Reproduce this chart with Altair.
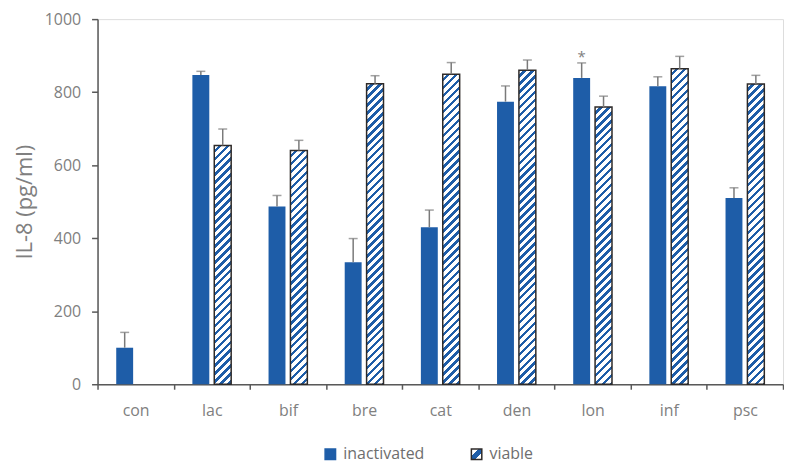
import math
import altair as alt

# ---------------- data ----------------
categories = ["con", "lac", "bif", "bre", "cat", "den", "lon", "inf", "psc"]
inactivated = [100, 847, 487, 334, 430, 774, 839, 816, 510]
inactivated_err = [42, 10, 30, 65, 47, 43, 41, 26, 28]
viable = [None, 654, 640, 823, 849, 860, 759, 864, 822]
viable_err = [None, 45, 28, 22, 32, 28, 30, 34, 24]
series_names = ["inactivated", "viable"]
star_cats = ["lon"]
star_series = ["inactivated"]
star_labels = ["*"]
y_ticks = [0, 200, 400, 600, 800, 1000]

# ---------------- style ----------------
BLUE = "#1e5da8"
DARK = "#2e2a28"
AXIS = "#595959"
TEXT = "#808080"
ERR = "#7a7a7a"
FONT = "Open Sans"
PLOT_W = 689
PLOT_H = 367
BAR_W = 17
PERIOD = 8.0
BLUE_FRAC = 0.45


def stripes(h, w=BAR_W):
    """Diagonal '/' stripes as an objectBoundingBox linear gradient."""
    L = w + h
    s = L / (w * w + h * h)
    stops = []
    n = int(math.ceil(L / PERIOD))
    for k in range(n):
        a = min(k * PERIOD / L, 1)
        b = min((k + 1 - BLUE_FRAC) * PERIOD / L, 1)
        c = min((k + 1) * PERIOD / L, 1)
        stops += [
            {"offset": round(a, 5), "color": "white"},
            {"offset": round(b, 5), "color": "white"},
            {"offset": round(b, 5), "color": BLUE},
            {"offset": round(c, 5), "color": BLUE},
        ]
    return {"gradient": "linear", "x1": 0, "y1": 0,
            "x2": round(w * s, 6), "y2": round(h * s, 6), "stops": stops}


records = []
for c, v, e in zip(categories, inactivated, inactivated_err):
    records.append({"cat": c, "series": "inactivated", "value": v, "hi": v + e})
for c, v, e in zip(categories, viable, viable_err):
    if v is None:
        continue
    records.append({"cat": c, "series": "viable", "value": v, "hi": v + e,
                    "grad": stripes(v / 1000 * PLOT_H)})

inact_hi = {c: v + e for c, v, e in zip(categories, inactivated, inactivated_err)}
star_records = [{"cat": c, "series": s, "label": l, "hi": inact_hi[c]}
                for c, s, l in zip(star_cats, star_series, star_labels)]

legend_grad = ("{gradient: 'linear', x1: 0, y1: 0, x2: 1, y2: 1, stops: ["
               "{offset: 0, color: 'white'}, {offset: 0.32, color: 'white'}, "
               "{offset: 0.32, color: '" + BLUE + "'}, {offset: 0.68, color: '" + BLUE + "'}, "
               "{offset: 0.68, color: 'white'}, {offset: 1, color: 'white'}]}")

# ---------------- encodings ----------------
x_enc = alt.X(
    "cat:N", sort=categories,
    scale=alt.Scale(domain=categories, paddingInner=0, paddingOuter=0),
    axis=alt.Axis(title=None, labelAngle=0, tickBand="extent",
                  domainColor=AXIS, domainWidth=1.5, tickColor=AXIS, tickWidth=1.5,
                  tickSize=5, labelFont=FONT, labelFontSize=16, labelColor=TEXT,
                  labelPadding=13),
)
xo_enc = alt.XOffset(
    "series:N", sort=series_names,
    scale=alt.Scale(domain=series_names, paddingInner=0.227, paddingOuter=0.854),
)
y_scale = alt.Scale(domain=[0, 1000], nice=False)
y_axis = alt.Axis(
    title="IL-8 (pg/ml)", values=y_ticks, format="d", grid=False,
    domainColor=AXIS, domainWidth=1.5, tickColor=AXIS, tickWidth=1.5, tickSize=6,
    labelFont=FONT, labelFontSize=16, labelColor=TEXT, labelPadding=11,
    titleFont=FONT, titleFontSize=22, titleFontWeight="normal", titleColor=TEXT,
    titlePadding=8,
)

base = alt.Chart(alt.Data(values=records))

bars_inact = base.transform_filter(alt.datum.series == "inactivated").mark_bar(
    color=BLUE
).encode(x=x_enc, xOffset=xo_enc, y=alt.Y("value:Q", scale=y_scale, axis=y_axis))

bars_viable = base.transform_filter(alt.datum.series == "viable").mark_bar(
    stroke=DARK, strokeWidth=1.5
).encode(
    x=x_enc, xOffset=xo_enc,
    y=alt.Y("value:Q", scale=y_scale, axis=y_axis),
    fill=alt.Fill("grad:N", scale=None, legend=None),
)

err_rule = base.mark_rule(color=ERR, strokeWidth=1.5).encode(
    x=x_enc, xOffset=xo_enc,
    y=alt.Y("value:Q", scale=y_scale, axis=y_axis), y2="hi:Q",
)
err_cap = base.mark_tick(color=ERR, thickness=1.5, size=9).encode(
    x=x_enc, xOffset=xo_enc, y=alt.Y("hi:Q", scale=y_scale, axis=y_axis),
)

star = alt.Chart(alt.Data(values=star_records)).mark_text(
    font=FONT, fontSize=15, color=TEXT, baseline="alphabetic", dy=-1
).encode(
    x=x_enc, xOffset=xo_enc, y=alt.Y("hi:Q", scale=y_scale, axis=y_axis),
    text="label:N",
)

leg = alt.Legend(
    title=None, orient="none", legendX=226, legendY=429, direction="horizontal",
    symbolType="square", symbolSize=110, symbolStrokeWidth=1.5, symbolOpacity=1,
    labelFont=FONT, labelFontSize=16, labelColor="#6e6e6e", labelOffset=5,
    columnPadding=43, padding=0,
)
legend_layer = base.mark_square(size=0, opacity=0, filled=True).encode(
    x=x_enc, xOffset=xo_enc, y=alt.Y("value:Q", scale=y_scale, axis=y_axis),
    color=alt.Color("series:N", sort=series_names,
                    scale=alt.Scale(domain=series_names, range=[BLUE, {"expr": legend_grad}]),
                    legend=leg),
    stroke=alt.Stroke("series:N", sort=series_names,
                      scale=alt.Scale(domain=series_names, range=[BLUE, DARK]),
                      legend=leg),
)

chart = alt.layer(bars_inact, bars_viable, err_rule, err_cap, star, legend_layer).properties(
    width=PLOT_W, height=PLOT_H,
    padding={"left": 5, "top": 2, "right": 0, "bottom": 0},
).configure_view(stroke=None).configure(background="white")

chart.save("out.html", embed_options={"renderer": "svg", "actions": False})
